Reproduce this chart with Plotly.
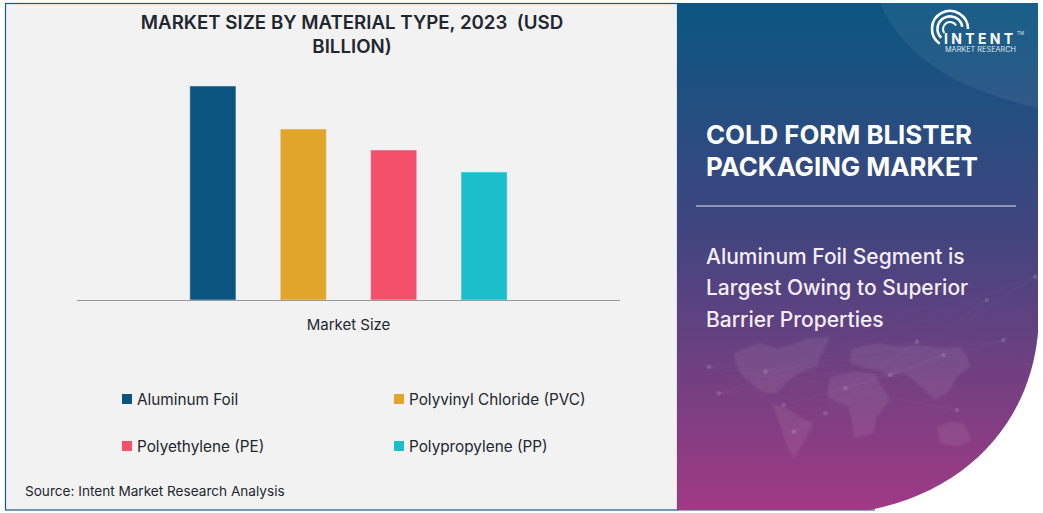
import base64
import math
import plotly.graph_objects as go

W, H = 1043, 513
category = ["Market Size"]
series_names = ["Aluminum Foil", "Polyvinyl Chloride (PVC)", "Polyethylene (PE)", "Polypropylene (PP)"]
series_values = [4.28, 3.42, 3.0, 2.56]
series_colors = ["#0b5480", "#e2a52c", "#f4506c", "#1abfcb"]
chart_title = "MARKET SIZE BY MATERIAL TYPE, 2023  (USD<br>BILLION)"
panel_title = ["COLD FORM BLISTER", "PACKAGING MARKET"]
panel_sub = ["Aluminum Foil Segment is", "Largest Owing to Superior", "Barrier Properties"]
source = "Source: Intent Market Research Analysis"
legend_pos = [(122, 399), (394, 399), (122, 446), (394, 446)]

FONT = "Inter, 'Open Sans', sans-serif"
INK = "#22262e"


def px(x):
    return x / W


def py(y):
    return 1 - y / H


def arc(cx, cy, r, a0, a1, sw):
    x0 = cx + r * math.cos(math.radians(a0))
    y0 = cy - r * math.sin(math.radians(a0))
    x1 = cx + r * math.cos(math.radians(a1))
    y1 = cy - r * math.sin(math.radians(a1))
    large = 1 if abs(a1 - a0) > 180 else 0
    return f'<path d="M{x0:.1f},{y0:.1f} A{r},{r} 0 {large} 0 {x1:.1f},{y1:.1f}" stroke-width="{sw}"/>'


continents = [
    "170,1060 215,1040 250,1030 300,1045 340,1035 400,1015 460,1010 445,1045 430,1070 420,1100 385,1110 350,1130 325,1150 300,1180 260,1180 235,1160 210,1140 190,1120 180,1100",
    "285,1210 330,1225 370,1250 410,1270 395,1300 385,1320 350,1375 335,1350 330,1340 315,1290",
    "520,1050 565,1035 610,1030 660,1040 720,1035 790,1045 850,1040 870,1070 880,1100 840,1130 825,1160 810,1180 770,1200 755,1180 740,1170 710,1140 680,1120 640,1130 600,1110 560,1105 520,1090",
    "460,1130 530,1115 590,1120 615,1160 640,1200 600,1250 590,1300 530,1315 525,1270 515,1220 480,1205 450,1190",
    "780,1280 820,1265 860,1270 885,1320 840,1340 790,1330",
]
nodes = [(95, 1100), (125, 1180), (265, 1115), (350, 1295), (445, 1240), (505, 1165), (640, 1125),
         (800, 1065), (980, 1020), (930, 900), (1075, 830), (720, 1025), (840, 1230), (320, 1215)]
links = "".join(
    f'<line x1="{a[0]}" y1="{a[1]}" x2="{b[0]}" y2="{b[1]}"/>'
    for a in nodes[:8] for b in nodes[5:]
)
dots = "".join(f'<circle cx="{x}" cy="{y}" r="7"/>' for x, y in nodes)
polys = "".join(f'<polygon points="{p}"/>' for p in continents)
logo = arc(950, 29, 18, 0, 235, 2.6) + arc(950, 29, 12.5, 10, 225, 2.6) + arc(950, 29, 7, 30, 215, 2)

svg = f'''<svg xmlns="http://www.w3.org/2000/svg" width="{W}" height="{H}" viewBox="0 0 {W} {H}">
<defs>
<linearGradient id="g" x1="0" y1="0" x2="0" y2="1">
<stop offset="0" stop-color="#0a5682"/><stop offset="0.45" stop-color="#41457f"/>
<stop offset="1" stop-color="#a03a84"/></linearGradient>
<clipPath id="c"><path d="M677,3 H1038 V333 C1030,420 970,490 870,510 H677 Z"/></clipPath>
<filter id="b"><feGaussianBlur stdDeviation="3"/></filter>
</defs>
<rect width="{W}" height="{H}" fill="#ffffff"/>
<rect x="5.5" y="3.5" width="672" height="506.5" fill="#f2f2f2" stroke="#1b5a7e" stroke-width="1.2"/>
<line x1="677" y1="510" x2="875" y2="510" stroke="#1b5a7e" stroke-width="1.2"/>
<g clip-path="url(#c)">
<rect x="677" y="3" width="361" height="507" fill="url(#g)"/>
<path d="M880,3 C905,60 960,90 1038,108 V3 Z" fill="#ffffff" fill-opacity="0.06"/>
<g transform="translate(677,0) scale(0.33333)">
<g fill="#ffffff" fill-opacity="0.07" filter="url(#b)">{polys}</g>
<g stroke="#ffffff" stroke-opacity="0.035" stroke-width="1.5">{links}</g>
<g fill="#ffffff" fill-opacity="0.13">{dots}</g>
</g>
</g>
<g fill="none" stroke="#ffffff" stroke-linecap="butt">{logo}</g>
</svg>'''
bg = "data:image/svg+xml;base64," + base64.b64encode(svg.encode()).decode()

fig = go.Figure()
for name, value, color in zip(series_names, series_values, series_colors):
    fig.add_trace(go.Bar(x=category, y=[value], name=name, marker_color=color, showlegend=False))

annotations = []


def text(t, x, y, size, color=INK, weight=400, anchor="left"):
    annotations.append(dict(text=t, x=px(x - 2), y=py(y), xref="paper", yref="paper", xanchor=anchor,
                            yanchor="middle", showarrow=False, align=anchor,
                            font=dict(family=FONT, size=size, color=color, weight=weight)))


shapes = []
for (x, y), name, color in zip(legend_pos, series_names, series_colors):
    shapes.append(dict(type="rect", xref="paper", yref="paper", x0=px(x), x1=px(x + 10),
                       y0=py(y + 5), y1=py(y - 5), fillcolor=color, line_width=0))
    text(name, x + 15, y, 15.3)

shapes.append(dict(type="line", xref="paper", yref="paper", x0=px(696), x1=px(1016), y0=py(206), y1=py(206),
                   line=dict(color="#e8e4ee", width=1)))

text(source, 25, 491, 13.6)
for t, y in zip(panel_title, [135, 166]):
    text(t, 706, y, 25.8, "#ffffff", 700)
for t, y in zip(panel_sub, [256, 287, 319]):
    text(t, 706, y, 21, "#f4eef6", 500)
text("I N T E N T", 944, 39, 14, "#ffffff", 700)
text("MARKET RESEARCH", 945, 49.5, 7.3, "#dfe6ee", 400)
text("TM", 1017, 33, 4.5, "#dfe6ee", 400)

fig.update_layout(
    width=W, height=H, margin=dict(l=0, r=0, t=0, b=0), autosize=False,
    paper_bgcolor="#ffffff", plot_bgcolor="rgba(0,0,0,0)",
    barmode="group", bargap=0.334, bargroupgap=0.49,
    title=dict(text=chart_title, x=352 / W, xanchor="center", xref="container", y=1 - 29 / H, yanchor="top",
               yref="container", font=dict(family=FONT, size=18.7, color=INK, weight=600)),
    xaxis=dict(domain=[px(77), px(620)], showline=True, linecolor="#9a9a9a", linewidth=1,
               ticks="outside", ticklen=11, tickcolor="rgba(0,0,0,0)", showgrid=False,
               tickfont=dict(family=FONT, size=15, color=INK), anchor="y"),
    yaxis=dict(domain=[py(300), py(50)], range=[0, 5], visible=False, anchor="x"),
    images=[dict(source=bg, xref="paper", yref="paper", x=0, y=1, sizex=1, sizey=1, xanchor="left",
                 yanchor="top", sizing="stretch", layer="below")],
    shapes=shapes, annotations=annotations,
)
fig.write_html("out.html", config={"displayModeBar": False},
               post_script="document.body.style.margin='0';")
